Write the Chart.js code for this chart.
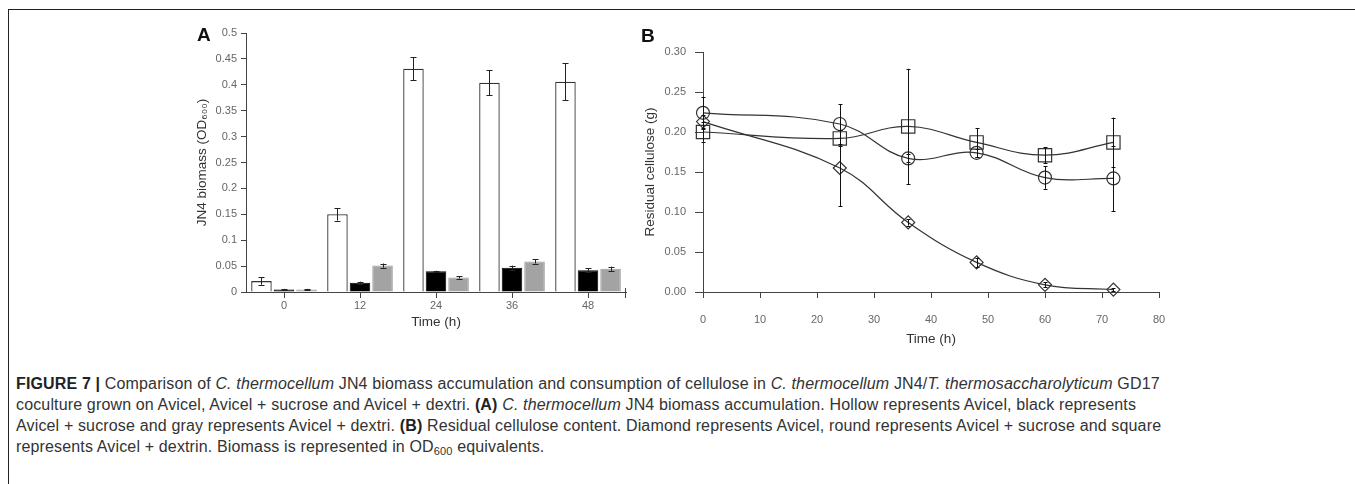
<!DOCTYPE html>
<html>
<head>
<meta charset="utf-8">
<script src="https://cdn.jsdelivr.net/npm/chart.js@4"></script>
<style>
  html, body { margin: 0; padding: 0; background: #fff; }
  body { width: 1355px; height: 484px; position: relative; overflow: hidden; font-family: "Liberation Sans", Arial, sans-serif; }
  .frame { position: absolute; left: 8px; top: 9px; width: 1400px; height: 500px; border-top: 1.5px solid #222; border-left: 1.5px solid #222; }
  .panel { position: absolute; }
  .tag { position: absolute; font-weight: bold; font-size: 19px; color: #111; }
  .caption { position: absolute; left: 16px; top: 373px; font-size: 16px; letter-spacing: 0.15px; line-height: 21px; color: #333; white-space: nowrap; }
  .caption b { color: #222; }
  .caption sub { font-size: 11px; vertical-align: -3px; line-height: 0; }
</style>
</head>
<body>
<div class="frame"></div>
<div class="panel" style="left:150px;top:20px;width:480px;height:330px"><canvas id="chartA"></canvas></div>
<div class="panel" style="left:600px;top:20px;width:620px;height:340px"><canvas id="chartB"></canvas></div>
<div class="tag" style="left:197px;top:24px">A</div>
<div class="tag" style="left:641px;top:25px">B</div>
<div class="caption">
<b>FIGURE 7 |</b> Comparison of <i>C. thermocellum</i> JN4 biomass accumulation and consumption of cellulose in <i>C. thermocellum</i> JN4/<i>T. thermosaccharolyticum</i> GD17<br>
coculture grown on Avicel, Avicel + sucrose and Avicel + dextri. <b>(A)</b> <i>C. thermocellum</i> JN4 biomass accumulation. Hollow represents Avicel, black represents<br>
Avicel + sucrose and gray represents Avicel + dextri. <b>(B)</b> Residual cellulose content. Diamond represents Avicel, round represents Avicel + sucrose and square<br>
represents Avicel + dextrin. Biomass is represented in OD<sub>600</sub> equivalents.
</div>
<script>
// panel A: biomass (OD600)
const timesA = ['0', '12', '24', '36', '48'];
const avicelA = [0.021, 0.150, 0.431, 0.404, 0.406];
const avicelAErr = [0.007, 0.012, 0.022, 0.024, 0.036];
const sucroseA = [0.005, 0.018, 0.040, 0.047, 0.042];
const sucroseAErr = [0.001, 0.002, 0.001, 0.004, 0.004];
const dextriA = [0.005, 0.051, 0.028, 0.059, 0.045];
const dextriAErr = [0.001, 0.004, 0.002, 0.004, 0.004];
const yTicksA = ['0', '0.05', '0.1', '0.15', '0.2', '0.25', '0.3', '0.35', '0.4', '0.45', '0.5'];

// panel B: residual cellulose (g)
const timesB = [0, 24, 36, 48, 60, 72];
const avicelB = [0.213, 0.155, 0.087, 0.037, 0.009, 0.003];
const avicelBErr = [0.008, 0.048, 0.004, 0.006, 0.003, 0.002];
const sucroseB = [0.224, 0.210, 0.167, 0.174, 0.143, 0.142];
const sucroseBErr = [0.020, 0.025, 0.005, 0.005, 0.014, 0.041];
const dextrinB = [0.200, 0.192, 0.207, 0.187, 0.171, 0.187];
const dextrinBErr = [0.012, 0.010, 0.072, 0.018, 0.010, 0.031];
const yTicksB = ['0.00', '0.05', '0.10', '0.15', '0.20', '0.25', '0.30'];

const FONT = '"Liberation Sans", Arial, sans-serif';
const axisColor = '#444';
const tickColor = '#666';

// error bars drawn through the y scale
const errorBars = {
    id: 'errorBars',
    afterDatasetsDraw(chart, args, opts) {
        const ctx = chart.ctx;
        const yScale = chart.scales.y;
        chart.data.datasets.forEach((ds, i) => {
            if (!ds.errors) return;
            const meta = chart.getDatasetMeta(i);
            ctx.save();
            ctx.strokeStyle = opts.color;
            ctx.lineWidth = opts.width;
            meta.data.forEach((el, j) => {
                const d = ds.data[j];
                const v = typeof d === 'object' ? d.y : d;
                const e = ds.errors[j];
                const top = yScale.getPixelForValue(v + e);
                const bot = yScale.getPixelForValue(v - e);
                const x = Math.round(el.x) + 0.5;
                ctx.beginPath();
                ctx.moveTo(x, top); ctx.lineTo(x, bot);
                ctx.moveTo(x - opts.cap, Math.round(top) + 0.5); ctx.lineTo(x + opts.cap, Math.round(top) + 0.5);
                ctx.moveTo(x - opts.cap, Math.round(bot) + 0.5); ctx.lineTo(x + opts.cap, Math.round(bot) + 0.5);
                ctx.stroke();
            });
            ctx.restore();
        });
    }
};

// little closing tick at the right end of the category axis
const endTick = {
    id: 'endTick',
    afterDraw(chart) {
        const x = chart.scales.x;
        const ctx = chart.ctx;
        ctx.save();
        ctx.strokeStyle = axisColor;
        ctx.lineWidth = 1;
        ctx.beginPath();
        ctx.moveTo(Math.round(x.right) - 0.5, x.top - 4);
        ctx.lineTo(Math.round(x.right) - 0.5, x.top + 6);
        ctx.stroke();
        ctx.restore();
    }
};

Chart.defaults.font.family = FONT;
Chart.defaults.animation = false;

new Chart(document.getElementById('chartA'), {
    type: 'bar',
    data: {
        labels: timesA,
        datasets: [
            { label: 'Avicel', data: avicelA, errors: avicelAErr, backgroundColor: '#fff', borderColor: '#333', borderWidth: 1.3 },
            { label: 'Avicel + sucrose', data: sucroseA, errors: sucroseAErr, backgroundColor: '#000', borderColor: '#000', borderWidth: 1 },
            { label: 'Avicel + dextri', data: dextriA, errors: dextriAErr, backgroundColor: '#a3a3a3', borderColor: '#9a9a9a', borderWidth: 1 }
        ]
    },
    options: {
        responsive: true,
        maintainAspectRatio: false,
        categoryPercentage: 0.89,
        barPercentage: 0.91,
        layout: { padding: { left: 40, top: 13, right: 4, bottom: 16 } },
        plugins: {
            legend: { display: false },
            tooltip: { enabled: false },
            errorBars: { color: '#222', width: 1, cap: 3 }
        },
        scales: {
            x: {
                grid: { display: true, drawOnChartArea: false, offset: false, tickLength: 6, color: axisColor },
                border: { color: axisColor, width: 1 },
                ticks: { color: tickColor, font: { size: 11 }, padding: 1, maxRotation: 0 },
                title: { display: true, text: 'Time (h)', color: '#333', font: { size: 13.5 } },
                afterFit: (s) => { s.height = 42; }
            },
            y: {
                min: 0, max: 0.5,
                grid: { display: true, drawOnChartArea: false, tickLength: 5, color: axisColor },
                border: { color: axisColor, width: 1 },
                ticks: {
                    stepSize: 0.05, color: tickColor, font: { size: 11 }, padding: 4,
                    callback: (v, i) => yTicksA[i]
                },
                title: { display: true, text: 'JN4 biomass (OD₆₀₀)', color: '#333', font: { size: 13.5 } },
                afterFit: (s) => { s.width = 56; }
            }
        }
    },
    plugins: [errorBars, endTick]
});

const toPoints = (ys) => ys.map((y, i) => ({ x: timesB[i], y: y }));
const lineStyle = {
    borderColor: '#333', borderWidth: 1.2, backgroundColor: 'rgba(0,0,0,0)',
    pointBorderColor: '#333', pointBorderWidth: 1.2, pointBackgroundColor: 'rgba(0,0,0,0)',
    tension: 0.4, clip: false
};

new Chart(document.getElementById('chartB'), {
    type: 'line',
    data: {
        datasets: [
            Object.assign({ label: 'Avicel', data: toPoints(avicelB), errors: avicelBErr, pointStyle: 'rectRot', pointRadius: 6.5 }, lineStyle),
            Object.assign({ label: 'Avicel + sucrose', data: toPoints(sucroseB), errors: sucroseBErr, pointStyle: 'circle', pointRadius: 6.5 }, lineStyle),
            Object.assign({ label: 'Avicel + dextrin', data: toPoints(dextrinB), errors: dextrinBErr, pointStyle: 'rect', pointRadius: 9.4 }, lineStyle)
        ]
    },
    options: {
        responsive: true,
        maintainAspectRatio: false,
        layout: { padding: { left: 38, top: 32, right: 61, bottom: 9 } },
        plugins: {
            legend: { display: false },
            tooltip: { enabled: false },
            errorBars: { color: '#111', width: 1, cap: 2 }
        },
        scales: {
            x: {
                type: 'linear', min: 0, max: 80,
                grid: { display: true, drawOnChartArea: false, tickLength: 6, color: axisColor },
                border: { color: axisColor, width: 1 },
                ticks: { stepSize: 10, color: tickColor, font: { size: 11 }, padding: 15, maxRotation: 0 },
                title: { display: true, text: 'Time (h)', color: '#333', font: { size: 13.5 } },
                afterFit: (s) => { s.height = 59; }
            },
            y: {
                min: 0, max: 0.3,
                grid: { display: true, drawOnChartArea: false, tickLength: 8, color: axisColor },
                border: { color: axisColor, width: 1 },
                ticks: {
                    stepSize: 0.05, color: tickColor, font: { size: 11 }, padding: 9,
                    callback: (v, i) => yTicksB[i]
                },
                title: { display: true, text: 'Residual cellulose (g)', color: '#333', font: { size: 13.5 } },
                afterFit: (s) => { s.width = 65; }
            }
        }
    },
    plugins: [errorBars]
});
</script>
</body>
</html>
